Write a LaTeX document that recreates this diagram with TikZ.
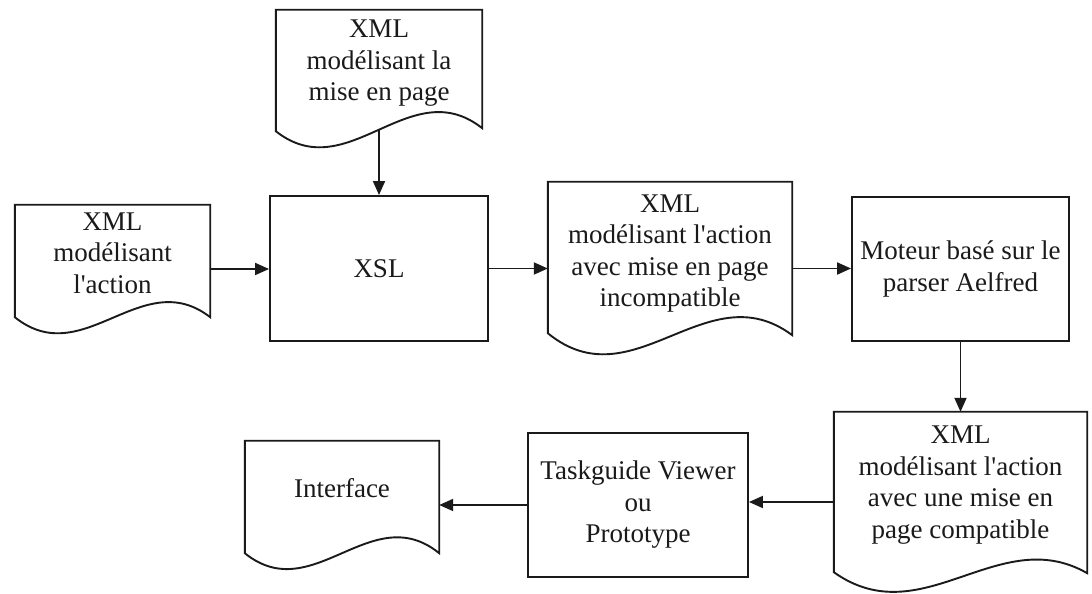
\documentclass[tikz,border=0pt]{standalone}
\usepackage{fontspec}
\newfontfamily\tnr{Liberation Serif}
\usetikzlibrary{arrows.meta,calc}
\definecolor{ink}{HTML}{1A1A1A}
\pgfdeclarelayer{background}
\pgfsetlayers{background,main}

% Document symbol: straight top and sides, wavy bottom edge.
% #1 node name, #2/#3 rise of the left/right end above the trough,
% #4/#5 pull of the lower/upper Bezier handle.
\newcommand\docoutline[5]{%
  \draw[outline] (#1.north west) -- (#1.north east)
    -- ([yshift=#3]#1.south east)
    .. controls ($(#1.south west)!0.65!(#1.south east)+(0,#3+#5)$)
            and ($(#1.south west)!0.35!(#1.south east)+(0,#2-#4)$)
    .. ([yshift=#2]#1.south west) -- cycle;}

\begin{document}
\begin{tikzpicture}[x=1pt,y=1pt,
  every node/.style={font=\tnr\fontsize{27}{31.5}\selectfont, text=ink},
  stepbox/.style={draw=ink, line width=1.9pt, fill=white, inner sep=0pt, align=center},
  docarea/.style={inner sep=0pt},
  doctext/.style={align=center, inner sep=0pt},
  outline/.style={draw=ink, line width=1.9pt, fill=white},
  flow/.style={draw=ink, line width=1.9pt, -{Triangle[length=14pt,width=12pt]}}]

\useasboundingbox (0,0) rectangle (1092,594);

% process boxes
\node[stepbox, minimum width=218pt, minimum height=145pt] (xsl) at (379,325.5) {XSL};
\node[stepbox, minimum width=217pt, minimum height=144pt] (moteur) at (960.5,325)
  {Moteur basé sur le\\parser Aelfred};
\node[stepbox, minimum width=220pt, minimum height=144pt] (viewer) at (638,89)
  {Taskguide Viewer\\ou\\Prototype};

% documents
\node[docarea, minimum width=206pt, minimum height=138pt] (topdoc) at (379,515) {};
\docoutline{topdoc}{17}{20}{57}{57}
\node[doctext] (topdoctext) at (379,530.5) {XML\\modélisant la\\mise en page};

\node[docarea, minimum width=195pt, minimum height=128pt] (actdoc) at (112.5,325) {};
\docoutline{actdoc}{16}{16}{55}{53}
\node[doctext] (actdoctext) at (112.5,341) {XML\\modélisant\\l'action};

\node[docarea, minimum width=244pt, minimum height=173pt] (middoc) at (670,325.5) {};
\docoutline{middoc}{22}{20}{70}{64}
\node[doctext] (middoctext) at (670,340.5)
  {XML\\modélisant l'action\\avec mise en page\\incompatible};

\node[docarea, minimum width=253pt, minimum height=180pt] (compdoc) at (960.5,92) {};
\docoutline{compdoc}{20}{19}{63}{51}
\node[doctext] (compdoctext) at (960.5,109)
  {XML\\modélisant l'action\\avec une mise en\\page compatible};

\node[docarea, minimum width=194pt, minimum height=128pt] (ifacedoc) at (342,89) {};
\docoutline{ifacedoc}{16}{16}{55}{55}
\node[doctext] (ifacedoctext) at (342,106) {Interface};

% connectors
\begin{pgfonlayer}{background}
  \draw[flow] (topdoc.center) -- (topdoc.center |- xsl.north);
  \draw[flow] (actdoc.east) -- (actdoc.east -| xsl.west);
  \draw[flow] (xsl.east) -- (xsl.east -| middoc.west);
  \draw[flow] (middoc.east) -- (middoc.east -| moteur.west);
  \draw[flow] (moteur.south) -- (moteur.south |- compdoc.north);
  \draw[flow] (compdoc.west) -- (compdoc.west -| viewer.east);
  \draw[flow] (viewer.west) -- (viewer.west -| ifacedoc.east);
\end{pgfonlayer}
\end{tikzpicture}
\end{document}
